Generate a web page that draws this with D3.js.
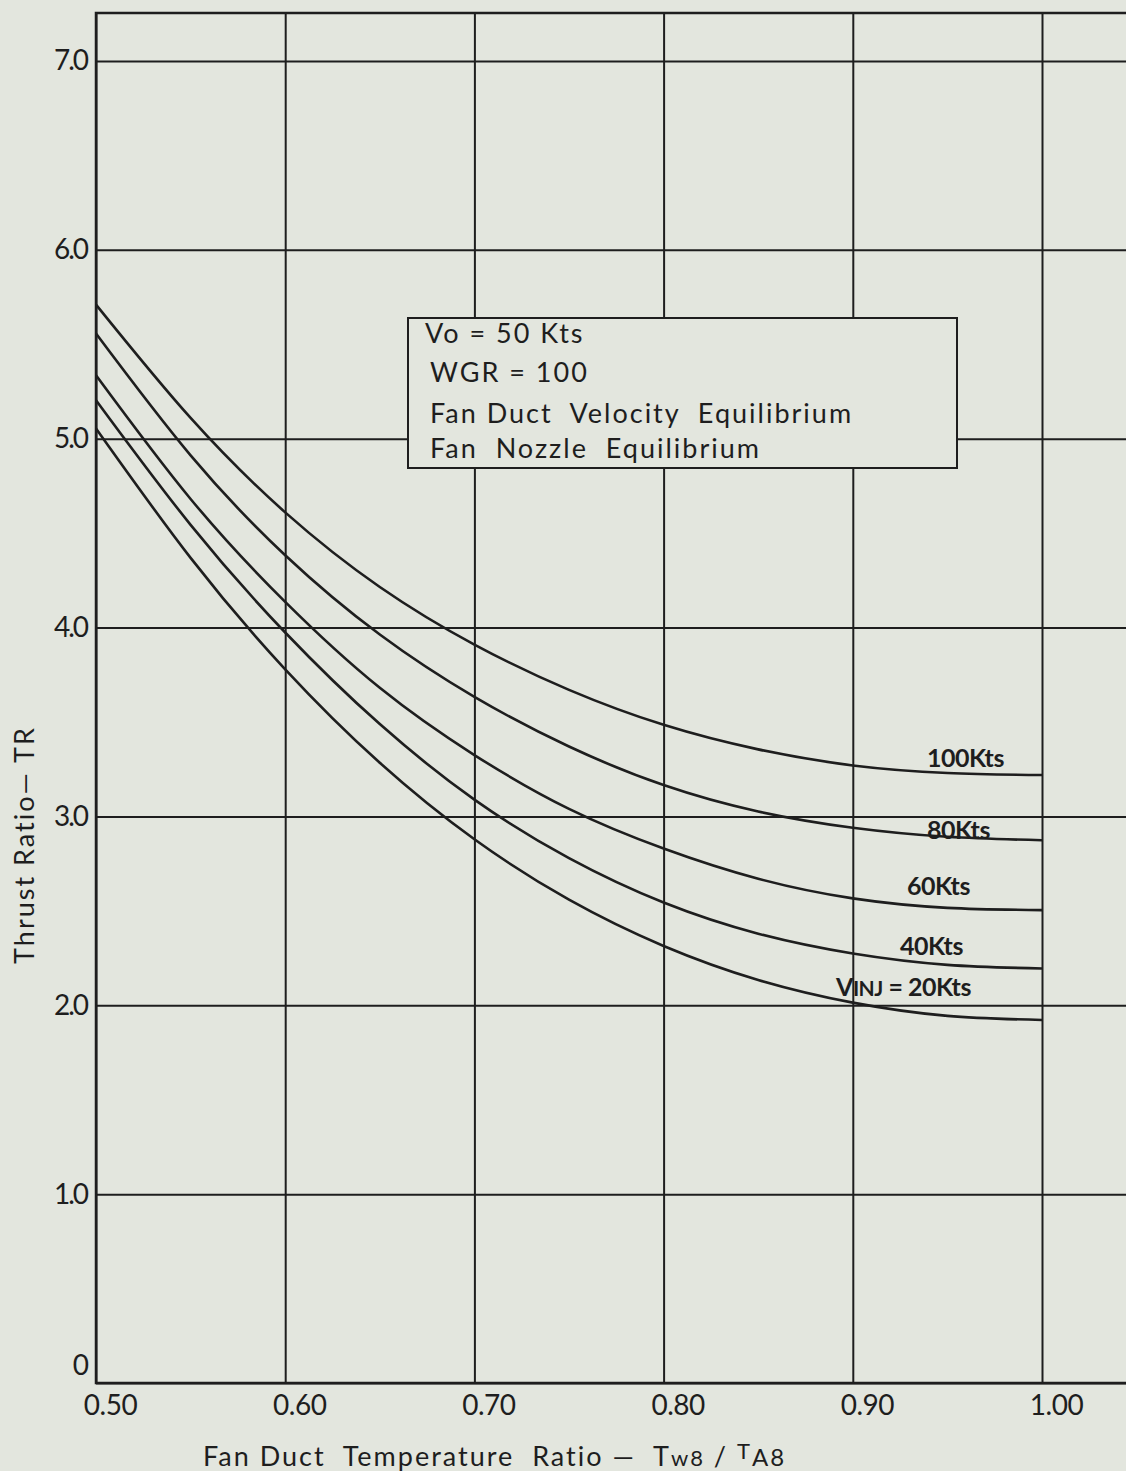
<!DOCTYPE html>
<html>
<head>
<meta charset="utf-8">
<script src="https://cdn.jsdelivr.net/npm/d3@7"></script>
<style>
  body { margin: 0; background: #e3e6de; }
  svg { display: block; }
  text { font-family: Lato, "Open Sans", sans-serif; fill: #1e1e1e; }
</style>
</head>
<body>
<svg width="1126" height="1471"></svg>
<script>
// fan duct temperature ratio Tw8/TA8
var tempRatio = [0.50, 0.55, 0.60, 0.65, 0.70, 0.75, 0.80, 0.85, 0.90, 0.95, 1.00];

// thrust ratio for each injection velocity
var tr100 = [5.71, 5.11, 4.61, 4.215, 3.91, 3.67, 3.485, 3.355, 3.27, 3.23, 3.219];
var tr80  = [5.557, 4.912, 4.383, 3.963, 3.633, 3.37, 3.166, 3.026, 2.94, 2.892, 2.874];
var tr60  = [5.336, 4.681, 4.136, 3.681, 3.325, 3.04, 2.83, 2.67, 2.566, 2.516, 2.504];
var tr40  = [5.204, 4.544, 3.974, 3.489, 3.089, 2.779, 2.544, 2.379, 2.274, 2.214, 2.195];
var tr20  = [5.054, 4.369, 3.779, 3.284, 2.879, 2.559, 2.314, 2.134, 2.014, 1.944, 1.922];

var curveNames = ['100Kts', '80Kts', '60Kts', '40Kts', '20Kts'];

var xTicks = [0.5, 0.6, 0.7, 0.8, 0.9, 1.0];
var xTickLabels = ['0.50', '0.60', '0.70', '0.80', '0.90', '1.00'];
var yTicks = [0, 1, 2, 3, 4, 5, 6, 7];
var yTickLabels = ['0', '1.0', '2.0', '3.0', '4.0', '5.0', '6.0', '7.0'];

var legendLines = ['Vo = 50 Kts', 'WGR = 100', 'Fan Duct  Velocity  Equilibrium', 'Fan  Nozzle  Equilibrium'];

var ink = '#1e1e1e';
var bg = '#e3e6de';
var plotLeft = 96, plotRight = 1126, plotTop = 13, plotBottom = 1383;

var svg = d3.select('svg');

var x = d3.scaleLinear().domain([0.5, 1.0]).range([plotLeft, 1042]);
var y = d3.scaleLinear().domain([0, 7]).range([plotBottom, 61]);

// vertical grid
var gx = svg.append('g')
    .attr('transform', 'translate(0,' + plotBottom + ')')
    .call(d3.axisBottom(x)
        .tickValues(xTicks)
        .tickSize(-(plotBottom - plotTop))
        .tickPadding(10)
        .tickFormat(function(d, i) { return xTickLabels[i]; }));

// horizontal grid
var gy = svg.append('g')
    .attr('transform', 'translate(' + plotLeft + ',0)')
    .call(d3.axisLeft(y)
        .tickValues(yTicks)
        .tickSize(-(plotRight - plotLeft))
        .tickPadding(9)
        .tickFormat(function(d, i) { return yTickLabels[i]; }));

svg.selectAll('.domain').remove();
svg.selectAll('.tick line').attr('stroke', ink).attr('stroke-width', 2);
svg.selectAll('.tick text')
    .style('font-size', '28px')
    .attr('fill', ink);
gx.selectAll('.tick text')
    .attr('y', 12)
    .attr('dx', 14)
    .style('letter-spacing', '-0.5px');
gy.selectAll('.tick text')
    .style('letter-spacing', '-2px');
gy.selectAll('.tick text').filter(function(d) { return d === 0; }).attr('dy', '-0.3em');

// frame
svg.append('path')
    .attr('d', 'M' + plotRight + ',' + plotTop + 'H' + plotLeft + 'V' + plotBottom + 'H' + plotRight)
    .attr('fill', 'none')
    .attr('stroke', ink).attr('stroke-width', 2.5);

// curves
var series = [tr100, tr80, tr60, tr40, tr20];
var line = d3.line()
    .x(function(d, i) { return x(tempRatio[i]); })
    .y(function(d) { return y(d); })
    .curve(d3.curveNatural);

svg.append('g').selectAll('path')
    .data(series)
    .enter().append('path')
    .attr('d', line)
    .attr('fill', 'none')
    .attr('stroke', ink)
    .attr('stroke-width', 2.6);

// curve labels
var labelOffsets = [[927, -8], [927, -1], [907, -15], [900, -13], [836, -24]];
var lbl = svg.append('g').selectAll('text')
    .data(series)
    .enter().append('text')
    .attr('x', function(d, i) { return labelOffsets[i][0]; })
    .attr('y', function(d, i) { return y(d[d.length - 1]) + labelOffsets[i][1]; })
    .style('font-size', '25px')
    .style('font-weight', 'bold')
    .style('letter-spacing', '-0.5px');
lbl.each(function(d, i) {
    var t = d3.select(this);
    if (i === 4) {
        t.append('tspan').text('V');
        t.append('tspan').style('font-size', '21px').text('INJ');
        t.append('tspan').text(' = ' + curveNames[i]);
    } else {
        t.text(curveNames[i]);
    }
});

// legend box
var lg = svg.append('g');
lg.append('rect')
    .attr('x', 408).attr('y', 318)
    .attr('width', 549).attr('height', 150)
    .attr('fill', bg)
    .attr('stroke', ink).attr('stroke-width', 2);
lg.selectAll('text')
    .data(legendLines)
    .enter().append('text')
    .attr('x', function(d, i) { return i === 0 ? 425 : 430; })
    .attr('y', function(d, i) { return [343, 382, 423, 458][i]; })
    .style('font-size', '27px')
    .style('letter-spacing', '2px')
    .style('white-space', 'pre')
    .attr('xml:space', 'preserve')
    .text(function(d) { return d; });

// axis titles
var xt = svg.append('text')
    .attr('x', 203).attr('y', 1466)
    .attr('xml:space', 'preserve')
    .style('white-space', 'pre')
    .style('letter-spacing', '2px')
    .style('font-size', '27px');
xt.append('tspan').text('Fan Duct  Temperature  Ratio \u2014  T');
xt.append('tspan').style('font-size', '22px').text('w8');
xt.append('tspan').text(' / ');
xt.append('tspan').attr('dy', -7).style('font-size', '22px').text('T');
xt.append('tspan').attr('dy', 7).style('font-size', '24px').text('A8');

svg.append('text')
    .attr('transform', 'translate(34,845) rotate(-90)')
    .attr('text-anchor', 'middle')
    .style('font-size', '27px')
    .style('letter-spacing', '2px')
    .text('Thrust Ratio\u2014 TR');
</script>
</body>
</html>
